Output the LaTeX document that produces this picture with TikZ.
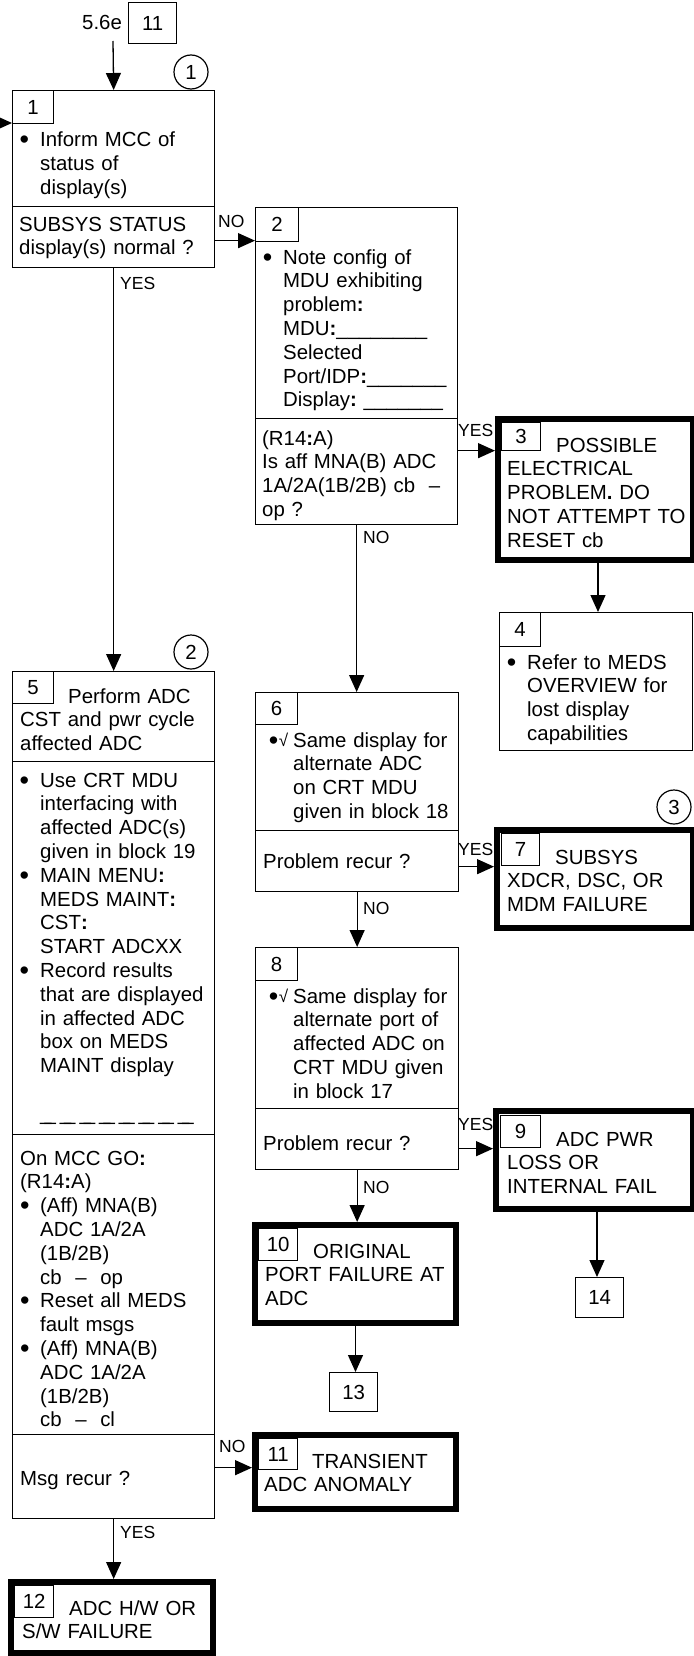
\documentclass[tikz,border=0pt]{standalone}
\usepackage{fontspec}
\setmainfont{Liberation Sans}
\usetikzlibrary{arrows.meta,calc}
\newcommand{\myfs}{\fontsize{20.4pt}{23.8pt}\selectfont}
\newcommand{\mylab}{\fontsize{17.5pt}{20pt}\selectfont}
\newcommand{\mybc}{\textbf{:}}
\newcommand{\mydot}{\raisebox{-2pt}{\fontsize{27pt}{27pt}\selectfont•}}
\newcommand{\mybul}{\leavevmode\llap{\mydot\hspace{11pt}}}
\newcommand{\mychk}{\leavevmode\llap{\mydot\hspace{0.5pt}\raisebox{1pt}{\fontsize{17pt}{17pt}\selectfont√}\hspace{5pt}}}
\newcommand{\myind}{\hspace*{20pt}}
\newcommand{\mybl}{\makebox[20pt][l]{\mydot}}
\newcommand{\myds}{\_\kern-7pt\_}
\newcommand{\myus}{\myds\hspace{4pt}}
\begin{document}
\begin{tikzpicture}[x=1pt,y=-1pt,
  sz/.style 2 args={minimum width=#1pt, minimum height=#2pt},
  box/.style={draw, line width=1.3pt, inner sep=0pt, anchor=north west, rectangle},
  tbox/.style={draw, line width=6pt, inner sep=0pt, anchor=north west, rectangle},
  num/.style={draw, line width=1.3pt, inner sep=0pt, anchor=north west, rectangle, font=\myfs},
  txt/.style={anchor=base west, inner sep=0pt, align=left, text width=250pt, font=\myfs},
  one/.style={anchor=base west, inner sep=0pt, font=\myfs},
  lab/.style={anchor=base west, inner sep=0pt, font=\mylab},
  arr/.style={line width=1.3pt, -{Triangle[length=17pt,width=15pt]}},
  circ/.style={draw, circle, line width=1.2pt, minimum size=34pt, inner sep=0pt, font=\myfs}]
\useasboundingbox (0,0) rectangle (693,1656);

% entry
\node[one] (t56) at (82,30) {5.6e};
\node[num,sz={48}{41}] (b0) at (128,2) {11};
\node[circ] (c1) at (191,72) {1};

% block 1
\node[box,sz={202}{116}] (b1) at (12,90) {};
\node[box,sz={202}{61}] (b1q) at (12,206) {};
\node[num,sz={41}{33}] (n1) at (12,90) {1};
\node[txt] (t1) at (40,147) {\mybul Inform MCC of\\status of\\display(s)};
\node[txt] (t1q) at (19,231) {SUBSYS STATUS\\display(s) normal ?};

% block 2
\node[box,sz={202}{211}] (b2) at (255,207) {};
\node[box,sz={202}{106}] (b2q) at (255,418) {};
\node[num,sz={43}{34}] (n2) at (255,207) {2};
\node[txt] (t2) at (283,264) {\mybul Note config of\\MDU exhibiting\\problem\mybc\\MDU\mybc\_\_\_\_\_\_\_\_\\Selected\\Port/IDP\mybc\_\_\_\_\_\_\_\\Display\mybc\ \_\_\_\_\_\_\_};
\node[txt] (t2q) at (262,445) {(R14\mybc A)\\Is aff MNA(B) ADC\\1A/2A(1B/2B) cb\ \ --\\op ?};

% block 3
\node[tbox,sz={195}{141}] (b3) at (495,416) {};
\node[num,sz={39}{28}] (n3) at (501,422) {3};
\node[txt] (t3) at (507,452) {\hspace*{49pt}POSSIBLE\\ELECTRICAL\\PROBLEM\textbf{.} DO\\NOT ATTEMPT TO\\RESET cb};

% block 4
\node[box,sz={193}{138}] (b4) at (499,612) {};
\node[num,sz={41}{34}] (n4) at (499,612) {4};
\node[txt] (t4) at (527,669) {\mybul Refer to MEDS\\OVERVIEW for\\lost display\\capabilities};

% block 5
\node[circ] (c2) at (191,652) {2};
\node[box,sz={202}{90}] (b5) at (12,671) {};
\node[box,sz={202}{373}] (b5m) at (12,761) {};
\node[box,sz={202}{300}] (b5l) at (12,1134) {};
\node[box,sz={202}{84}] (b5q) at (12,1434) {};
\node[num,sz={41}{32}] (n5) at (12,671) {5};
\node[txt] (t5) at (20,703) {\hspace*{48pt}Perform ADC\\CST and pwr cycle\\affected ADC};
\node[txt] (t5m) at (40,787) {\mybul Use CRT MDU\\interfacing with\\affected ADC(s)\\given in block 19\\\mybul MAIN MENU\mybc\\MEDS MAINT\mybc\\CST\mybc\\START ADCXX\\\mybul Record results\\that are displayed\\in affected ADC\\box on MEDS\\MAINT display\\\mbox{}\\\myus\myus\myus\myus\myus\myus\myus\myds};
\node[txt] (t5l) at (20,1165) {On MCC GO\mybc\\(R14\mybc A)\\\mybl (Aff) MNA(B)\\\myind ADC 1A/2A\\\myind (1B/2B)\\\myind cb\ \ --\ \ op\\\mybl Reset all MEDS\\\myind fault msgs\\\mybl (Aff) MNA(B)\\\myind ADC 1A/2A\\\myind (1B/2B)\\\myind cb\ \ --\ \ cl};
\node[txt] (t5q) at (20,1485) {Msg recur ?};

% block 6
\node[box,sz={203}{138}] (b6) at (255,692) {};
\node[box,sz={203}{61}] (b6q) at (255,830) {};
\node[num,sz={42}{32}] (n6) at (255,692) {6};
\node[txt] (t6) at (293,747) {\mychk Same display for\\alternate ADC\\on CRT MDU\\given in block 18};
\node[txt] (t6q) at (263,868) {Problem recur ?};

% block 7
\node[circ] (c3) at (674,807) {3};
\node[tbox,sz={196}{98}] (b7) at (494,827) {};
\node[num,sz={38}{32}] (n7) at (501,833) {7};
\node[txt] (t7) at (507,864) {\hspace*{48pt}SUBSYS\\XDCR, DSC, OR\\MDM FAILURE};

% block 8
\node[box,sz={203}{161}] (b8) at (255,947) {};
\node[box,sz={203}{61}] (b8q) at (255,1108) {};
\node[num,sz={42}{33}] (n8) at (255,947) {8};
\node[txt] (t8) at (293,1003) {\mychk Same display for\\alternate port of\\affected ADC on\\CRT MDU given\\in block 17};
\node[txt] (t8q) at (263,1150) {Problem recur ?};

% block 9
\node[tbox,sz={197}{98}] (b9) at (493,1108) {};
\node[num,sz={40}{32}] (n9) at (500,1115) {9};
\node[txt] (t9) at (507,1146) {\hspace*{49pt}ADC PWR\\LOSS OR\\INTERNAL FAIL};

% block 10
\node[tbox,sz={201}{98}] (b10) at (252,1222) {};
\node[num,sz={39}{32}] (n10) at (258,1228) {10};
\node[txt] (t10) at (265,1258) {\hspace*{48pt}ORIGINAL\\PORT FAILURE AT\\ADC};

% block 11
\node[tbox,sz={201}{74}] (b11) at (252,1432) {};
\node[num,sz={39}{31}] (n11) at (258,1438) {11};
\node[txt] (t11) at (264,1468) {\hspace*{48pt}TRANSIENT\\ADC ANOMALY};

% block 12
\node[tbox,sz={202}{71}] (b12) at (8,1579) {};
\node[num,sz={39}{32}] (n12) at (14,1585) {12};
\node[txt] (t12) at (22,1615) {\hspace*{47pt}ADC H/W OR\\S/W FAILURE};

% off-page connectors
\node[num,sz={48}{39}] (b13) at (329,1372) {13};
\node[num,sz={48}{40}] (b14) at (575,1277) {14};

% connectors
\coordinate (e0) at (113,41);
\draw[arr] (e0) -- (b1.north);
\coordinate (e1) at (-14,123);
\draw[arr] (e1) -- (e1 -| b1.west);
\coordinate (a1) at ($(b1q.east)+(0,3.5)$);
\draw[arr] (a1) -- (a1 -| b2.west);
\draw[arr] (b1q.south) -- (b5.north);
\coordinate (a2) at ($(b2q.east)+(0,-21)$);
\draw[arr] (a2) -- (a2 -| b3.west);
\draw[arr] (b2q.south) -- (b2q.south |- b6.north);
\coordinate (a3) at ($(b3.south)+(2.5,0)$);
\draw[arr] (a3) -- (a3 |- b4.north);
\coordinate (a6) at ($(b6q.east)+(0,5.5)$);
\draw[arr] (a6) -- (a6 -| b7.west);
\draw[arr] (b6q.south) -- (b6q.south |- b8.north);
\coordinate (a8) at ($(b8q.east)+(0,9.5)$);
\draw[arr] (a8) -- (a8 -| b9.west);
\draw[arr] (b8q.south) -- (b8q.south |- b10.north);
\coordinate (a9) at ($(b9.south)+(2.5,0)$);
\draw[arr] (a9) -- (a9 |- b14.north);
\draw[arr] (b10.south) -- (b10.south |- b13.north);
\coordinate (a5) at ($(b5q.east)+(0,-9)$);
\draw[arr] (a5) -- (a5 -| b11.west);
\draw[arr] (b5q.south) -- (b5q.south |- b12.north);

% labels
\node[lab] (l1) at (218,227) {NO};
\node[lab] (l2) at (120,289) {YES};
\node[lab] (l3) at (458,436) {YES};
\node[lab] (l4) at (363,543) {NO};
\node[lab] (l5) at (458,855) {YES};
\node[lab] (l6) at (363,914) {NO};
\node[lab] (l7) at (458,1130) {YES};
\node[lab] (l8) at (363,1193) {NO};
\node[lab] (l9) at (219,1452) {NO};
\node[lab] (l10) at (120,1538) {YES};
\end{tikzpicture}
\end{document}
